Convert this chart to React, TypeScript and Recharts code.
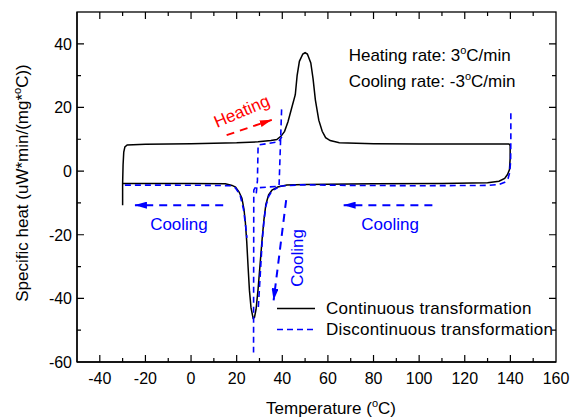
import React from "react";
import {
  LineChart,
  Line,
  XAxis,
  YAxis,
  ReferenceLine,
  ReferenceDot,
  Legend,
} from "recharts";

const FONT = "'Liberation Sans', Arial, sans-serif";

const X_MAJOR = [-40, -20, 0, 20, 40, 60, 80, 100, 120, 140, 160];
const X_MINOR = [-30, -10, 10, 30, 50, 70, 90, 110, 130, 150];
const Y_MAJOR = [-60, -40, -20, 0, 20, 40];
const Y_MINOR = [-50, -30, -10, 10, 30];

// continuous transformation: heating up to 140, then cooling back to -30
const continuousLoop: [number, number][] = [
  [-30, -10.7], [-30, -4], [-29.8, 2], [-29.5, 6], [-29, 7.6], [-28, 8.2],
  [-20, 8.4], [0, 8.6], [20, 8.9], [29.4, 9.2], [35, 9.6], [37.6, 9.9],
  [39.5, 11], [41, 12.5], [42.5, 15.5], [44, 19.5], [45.7, 24], [46.5, 30],
  [47.5, 34.5], [49, 36.8], [50, 37.2], [51, 36.8], [52.5, 34], [53.5, 29],
  [54.5, 22.4], [56, 16], [57.5, 12.5], [59, 10.5], [61, 9.6], [65, 8.9],
  [80, 8.6], [100, 8.5], [120, 8.5], [139.4, 8.5], [139.9, 8], [139.9, 4],
  [139.6, 0.5], [138.8, -1], [137.5, -2.3], [135, -3.2], [130, -3.7],
  [110, -3.9], [80, -4], [50, -4.2], [42, -4.4], [38, -5], [35.5, -6],
  [34, -7.5], [32.8, -10.5], [32, -15], [31.2, -21], [30.3, -29], [29.4, -37],
  [28.5, -43.5], [27.8, -46], [27.2, -46.2], [26.3, -43], [25.6, -37.5],
  [25, -30], [24.4, -22], [23.8, -16], [23.2, -12], [22.3, -8.5], [21, -6.5],
  [19.5, -5], [18, -4.5], [15, -4], [0, -3.9], [-29.8, -3.8],
];

// discontinuous transformation, drawn as its separate pieces
const discCooling: [number, number][] = [
  [140.2, 18.2], [140.2, 10], [140.1, 3], [139.7, -0.5], [139, -2.3],
  [137.5, -3.5], [135, -4.2], [130, -4.5], [100, -4.6], [70, -4.5],
  [48, -4.3], [40, -4.7], [34, -5], [28, -5.3], [27.5, -6], [27.4, -57],
];
const discLeft: [number, number][] = [
  [-29, -4.4], [-10, -4.4], [10, -4.5], [17, -4.6], [19.5, -5.3],
  [21.5, -7.5], [23, -12], [23.9, -17], [24.5, -21],
];
const discDipRight: [number, number][] = [
  [29.5, -42.7], [30.3, -33], [31.2, -22], [32, -15.5], [32.8, -11],
  [34, -8], [35.5, -6.2], [38, -5.2],
];
const discStep: [number, number][] = [
  [28.6, -7], [29.1, -3], [29.4, 8.2], [33, 8.6], [38.4, 9.2], [39.8, 10.8],
];
const discDrop: [number, number][] = [
  [39.7, 19.4], [38.6, -4.4],
];

const toPts = (a: [number, number][]) => a.map(([x, y]) => ({ x, y }));

// plot box (from chart margins / axis sizes below) and its data extent
const PLOT = { left: 77, top: 12, right: 556, bottom: 362 };
const XDOM = [-50, 160];
const YDOM = [-60, 50];
const px = (v: number) => PLOT.left + ((v - XDOM[0]) / (XDOM[1] - XDOM[0])) * (PLOT.right - PLOT.left);
const py = (v: number) => PLOT.bottom - ((v - YDOM[0]) / (YDOM[1] - YDOM[0])) * (PLOT.bottom - PLOT.top);

function BottomTick(props: any) {
  const { x, y, payload } = props;
  if (!X_MAJOR.includes(payload.value)) return <g />;
  return (
    <text x={x} y={y + 22} textAnchor="middle" fontSize={16} fontFamily={FONT} fill="#000">
      {payload.value}
    </text>
  );
}

function LeftTick(props: any) {
  const { x, y, payload } = props;
  if (!Y_MAJOR.includes(payload.value)) return <g />;
  return (
    <text x={x - 5} y={y + 6} textAnchor="end" fontSize={16} fontFamily={FONT} fill="#000">
      {payload.value}
    </text>
  );
}

// full frame with inward major/minor ticks on all four sides
function Frame() {
  const xs = [...X_MAJOR, ...X_MINOR].filter((v) => v > XDOM[0] && v < XDOM[1]);
  const ys = [...Y_MAJOR, ...Y_MINOR].filter((v) => v > YDOM[0] && v < YDOM[1]);
  const d: string[] = [];
  xs.forEach((v) => {
    const len = X_MAJOR.includes(v) ? 7 : 4;
    const x = px(v);
    d.push(`M${x},${PLOT.bottom}v${-len}`, `M${x},${PLOT.top}v${len}`);
  });
  ys.forEach((v) => {
    const len = Y_MAJOR.includes(v) ? 7 : 4;
    const y = py(v);
    d.push(`M${PLOT.left},${y}h${len}`, `M${PLOT.right},${y}h${-len}`);
  });
  return (
    <g>
      <rect x={PLOT.left} y={PLOT.top} width={PLOT.right - PLOT.left} height={PLOT.bottom - PLOT.top}
        fill="none" stroke="#000" strokeWidth={1.3} />
      <path d={d.join("")} fill="none" stroke="#000" strokeWidth={1.2} />
    </g>
  );
}

const note = (txt: React.ReactNode, color: string, rotate = 0, anchor = "middle", dy = 6) =>
  (p: any) => (
    <text
      x={p.cx}
      y={p.cy}
      dy={dy}
      textAnchor={anchor}
      fontSize={17}
      fontFamily={FONT}
      fill={color}
      transform={rotate ? `rotate(${rotate}, ${p.cx}, ${p.cy})` : undefined}
    >
      {txt}
    </text>
  );

function LegendBox(props: any) {
  const items = (props.payload || []).filter((e: any) => e.type !== "none");
  return (
    <div style={{ fontFamily: FONT, fontSize: 17 }}>
      {items.map((e: any) => (
        <div key={e.value} style={{ display: "flex", alignItems: "center", height: 21 }}>
          <svg width={38} height={21}>
            <line
              x1={0}
              x2={38}
              y1={10.5}
              y2={10.5}
              stroke={e.color}
              strokeWidth={1.5}
              strokeDasharray={e.payload?.strokeDasharray}
            />
          </svg>
          <span style={{ marginLeft: 11, color: "#000", whiteSpace: "nowrap", letterSpacing: 0.25 }}>{e.value}</span>
        </div>
      ))}
    </div>
  );
}

export default function App() {
  const blue = "#0000ff";
  const dash = "6 4";
  return (
    <div style={{ position: "absolute", left: 0, top: 0, width: 571, height: 420, background: "#fff" }}>
      <svg width={0} height={0} style={{ position: "absolute" }}>
        <defs>
          <marker id="arrBlue" viewBox="0 0 12 7" refX={12} refY={3.5} markerWidth={12} markerHeight={7}
            markerUnits="userSpaceOnUse" orient="auto">
            <path d="M0,0 L12,3.5 L0,7 Z" fill={blue} />
          </marker>
          <marker id="arrRed" viewBox="0 0 12 7" refX={12} refY={3.5} markerWidth={12} markerHeight={7}
            markerUnits="userSpaceOnUse" orient="auto">
            <path d="M0,0 L12,3.5 L0,7 Z" fill="#ff0000" />
          </marker>
        </defs>
      </svg>
      <LineChart width={571} height={420} margin={{ top: 12, right: 15, left: 0, bottom: 0 }}>
        <XAxis
          xAxisId="b"
          type="number"
          dataKey="x"
          domain={XDOM}
          allowDataOverflow
          ticks={[...X_MAJOR, ...X_MINOR]}
          interval={0}
          height={58}
          tickSize={0}
          tickMargin={0}
          tickLine={false}
          axisLine={{ stroke: "#000", strokeWidth: 1.3 }}
          tick={<BottomTick />}
          label={{
            content: () => (
              <text x={331} y={414} textAnchor="middle" fontSize={17} fontFamily={FONT} fill="#000">
                Temperature (<tspan dy={-7} fontSize={11}>o</tspan>
                <tspan dy={7}>C)</tspan>
              </text>
            ),
          }}
        />
        <YAxis
          yAxisId="l"
          type="number"
          dataKey="y"
          domain={YDOM}
          allowDataOverflow
          ticks={[...Y_MAJOR, ...Y_MINOR]}
          interval={0}
          width={77}
          tickSize={0}
          tickMargin={0}
          tickLine={false}
          axisLine={{ stroke: "#000", strokeWidth: 1.3 }}
          tick={<LeftTick />}
          label={{
            content: () => (
              <text x={28} y={183} textAnchor="middle" fontSize={17} fontFamily={FONT} fill="#000"
                transform="rotate(-90, 28, 183)">
                Specific heat (uW*min/(mg*<tspan dy={-7} fontSize={11}>o</tspan>
                <tspan dy={7}>C))</tspan>
              </text>
            ),
          }}
        />

        <Line xAxisId="b" yAxisId="l" data={toPts(continuousLoop)} dataKey="y" name="Continuous transformation"
          stroke="#000" strokeWidth={1.5} dot={false} type="linear" isAnimationActive={false} />
        <Line xAxisId="b" yAxisId="l" data={toPts(discCooling)} dataKey="y" name="Discontinuous transformation"
          stroke={blue} strokeWidth={1.6} strokeDasharray={dash} dot={false} type="linear" isAnimationActive={false} />
        <Line xAxisId="b" yAxisId="l" data={toPts(discLeft)} dataKey="y" name="d2" legendType="none"
          stroke={blue} strokeWidth={1.6} strokeDasharray={dash} dot={false} type="linear" isAnimationActive={false} />
        <Line xAxisId="b" yAxisId="l" data={toPts(discDipRight)} dataKey="y" name="d3" legendType="none"
          stroke={blue} strokeWidth={1.6} strokeDasharray={dash} dot={false} type="linear" isAnimationActive={false} />
        <Line xAxisId="b" yAxisId="l" data={toPts(discStep)} dataKey="y" name="d4" legendType="none"
          stroke={blue} strokeWidth={1.6} strokeDasharray={dash} dot={false} type="linear" isAnimationActive={false} />
        <Line xAxisId="b" yAxisId="l" data={toPts(discDrop)} dataKey="y" name="d5" legendType="none"
          stroke={blue} strokeWidth={1.6} strokeDasharray={dash} dot={false} type="linear" isAnimationActive={false} />

        {/* annotation arrows */}
        <ReferenceLine xAxisId="b" yAxisId="l" segment={[{ x: 15.6, y: 11.3 }, { x: 35.4, y: 16.1 }]}
          stroke="#ff0000" strokeWidth={2} strokeDasharray="8 6" markerEnd="url(#arrRed)" />
        <ReferenceLine xAxisId="b" yAxisId="l" segment={[{ x: 14.1, y: -10.7 }, { x: -24.6, y: -10.7 }]}
          stroke={blue} strokeWidth={2} strokeDasharray="8 6" markerEnd="url(#arrBlue)" />
        <ReferenceLine xAxisId="b" yAxisId="l" segment={[{ x: 105.8, y: -10.7 }, { x: 66.9, y: -10.7 }]}
          stroke={blue} strokeWidth={2} strokeDasharray="8 6" markerEnd="url(#arrBlue)" />
        <ReferenceLine xAxisId="b" yAxisId="l" segment={[{ x: 41.7, y: -9.1 }, { x: 36.2, y: -40.6 }]}
          stroke={blue} strokeWidth={2} strokeDasharray="8 6" markerEnd="url(#arrBlue)" />

        {/* frame with inward ticks, drawn in the reference layer */}
        <ReferenceDot xAxisId="b" yAxisId="l" x={55} y={-5} r={0} shape={() => <Frame />} />

        {/* annotation texts */}
        <ReferenceDot xAxisId="b" yAxisId="l" x={22.2} y={18.9} r={0} shape={note("Heating", "#ff0000", -23)} />
        <ReferenceDot xAxisId="b" yAxisId="l" x={-5.3} y={-16.5} r={0} shape={note("Cooling", blue)} />
        <ReferenceDot xAxisId="b" yAxisId="l" x={87.3} y={-16.7} r={0} shape={note("Cooling", blue)} />
        <ReferenceDot xAxisId="b" yAxisId="l" x={46.4} y={-27.3} r={0} shape={note("Cooling", blue, -90)} />
        <ReferenceDot xAxisId="b" yAxisId="l" x={69.1} y={34.5} r={0}
          shape={note(<>Heating rate: 3<tspan dy={-7} fontSize={11}>o</tspan><tspan dy={7}>C/min</tspan></>, "#000", 0, "start", 0)} />
        <ReferenceDot xAxisId="b" yAxisId="l" x={69.1} y={26.5} r={0}
          shape={note(<>Cooling rate: -3<tspan dy={-7} fontSize={11}>o</tspan><tspan dy={7}>C/min</tspan></>, "#000", 0, "start", 0)} />

        <Legend
          layout="vertical"
          align="center"
          verticalAlign="middle"
          content={<LegendBox />}
          wrapperStyle={{ position: "absolute", left: 277, top: 298, width: 290, height: 42 }}
        />
      </LineChart>
    </div>
  );
}
